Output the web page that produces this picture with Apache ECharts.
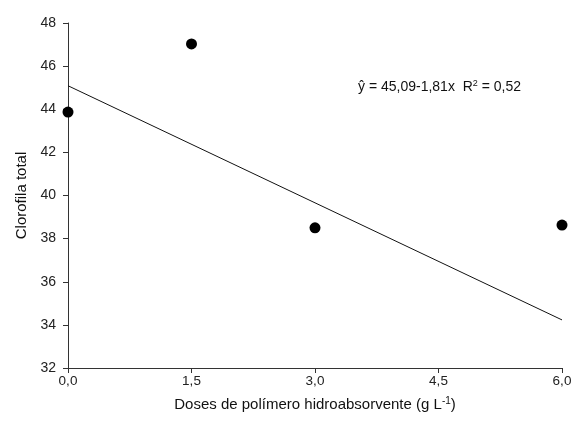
<!DOCTYPE html>
<html><head><meta charset="utf-8">
<script src="https://cdn.jsdelivr.net/npm/echarts@6/dist/echarts.min.js"></script>
<style>html,body{margin:0;padding:0;background:#fff}#c{width:575px;height:426px}</style>
</head><body><div id="c"></div>
<script>
const doses = [0, 1.5, 3.0, 6.0];
const clorofila = [43.87, 47.03, 38.5, 38.63];
const intercept = 45.09;
const slope = -1.81;
const fitX = [0, 6];

const chart = echarts.init(document.getElementById('c'));
const fmt = v => v.toFixed(1).replace('.', ',');
chart.setOption({
  animation: false,
  textStyle: { fontFamily: 'Liberation Sans, Arial, sans-serif' },
  grid: { left: 68, right: 13, top: 23, bottom: 58 },
  xAxis: {
    type: 'value', min: 0, max: 6, interval: 1.5,
    name: 'Doses de polímero hidroabsorvente (g L{sup|-1})',
    nameLocation: 'middle', nameGap: 28,
    nameTextStyle: { fontSize: 15, color: '#111', rich: { sup: { fontSize: 10, verticalAlign: 'top', padding: [0, 0, 8, 0], color: '#111' } } },
    axisLine: { lineStyle: { color: '#333', width: 1 } },
    axisTick: { length: 5, lineStyle: { color: '#333' } },
    axisLabel: { fontSize: 13.5, color: '#222', margin: 6, formatter: v => fmt(v) },
    splitLine: { show: false }
  },
  yAxis: {
    type: 'value', min: 32, max: 48, interval: 2,
    name: 'Clorofila total', nameLocation: 'middle', nameGap: 39,
    nameTextStyle: { fontSize: 15, color: '#111' },
    axisLine: { show: true, lineStyle: { color: '#333', width: 1 } },
    axisTick: { show: true, length: 5, lineStyle: { color: '#333' } },
    axisLabel: { fontSize: 14, color: '#222', margin: 12 },
    splitLine: { show: false }
  },
  series: [
    {
      type: 'line', data: fitX.map(x => [x, intercept + slope * x]),
      symbol: 'none', lineStyle: { color: '#111', width: 1 }, z: 2
    },
    {
      type: 'scatter', data: doses.map((d, i) => [d, clorofila[i]]),
      symbolSize: 11, itemStyle: { color: '#000', opacity: 1 }, z: 3
    }
  ],
  graphic: [{
    type: 'text', left: 358, top: 79,
    style: {
      text: 'ŷ = 45,09-1,81x  R{s|2} = 0,52',
      font: '14px Liberation Sans, Arial, sans-serif', fill: '#111',
      rich: { s: { fontSize: 9, verticalAlign: 'top', padding: [0, 0, 7, 0], fill: '#111' } }
    }
  }]
});
</script></body></html>
